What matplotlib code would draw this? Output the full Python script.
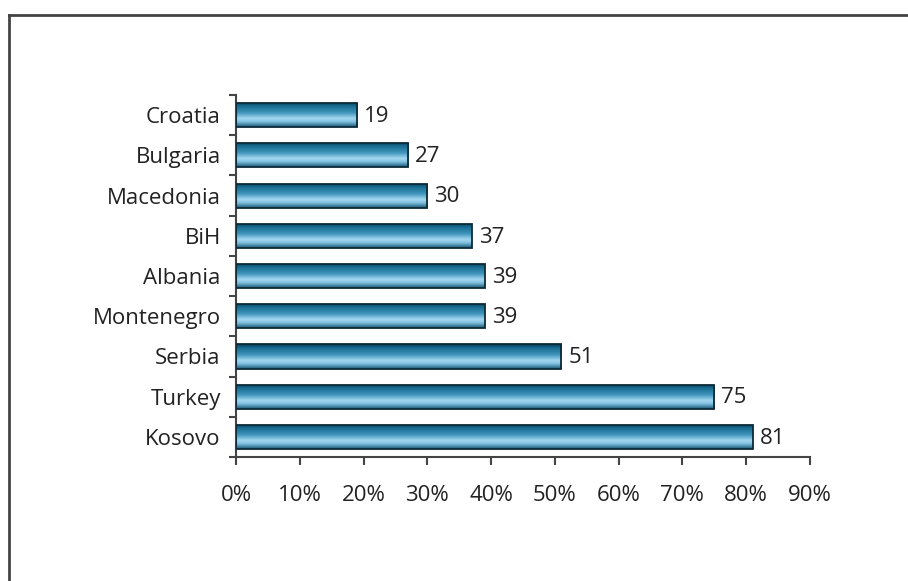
import numpy as np
import matplotlib.pyplot as plt
from matplotlib.colors import LinearSegmentedColormap
from matplotlib.lines import Line2D

countries = ["Croatia", "Bulgaria", "Macedonia", "BiH", "Albania",
             "Montenegro", "Serbia", "Turkey", "Kosovo"]
values = [19, 27, 30, 37, 39, 39, 51, 75, 81]
xticks = [0, 10, 20, 30, 40, 50, 60, 70, 80, 90]

plt.rcParams["font.family"] = ["Open Sans", "DejaVu Sans"]

fig = plt.figure(figsize=(9.08, 5.81), dpi=100)
ax = fig.add_axes([0.26, 0.2134, 0.632, 0.623])

# frame around the chart (top and left only visible)
fig.add_artist(Line2D([0.010, 1.0], [0.974, 0.974], transform=fig.transFigure,
                      color="#444444", lw=2))
fig.add_artist(Line2D([0.010, 0.010], [0.0, 0.974], transform=fig.transFigure,
                      color="#444444", lw=2))

# cylinder-like gradient: top dark, light band in lower middle, darker bottom
cmap = LinearSegmentedColormap.from_list(
    "bar", [(0.0, "#08374f"), (0.14, "#166a8e"), (0.42, "#3e94bb"),
            (0.66, "#a4d8f1"), (0.8, "#7fbfdf"), (1.0, "#175673")])
grad = np.linspace(0, 1, 64).reshape(-1, 1)

ypos = np.arange(len(countries))
h = 0.6
bars = ax.barh(ypos, values, height=h, facecolor="none",
               edgecolor="#0c2a38", linewidth=1.3, zorder=3)
for b, y, v in zip(bars, ypos, values):
    im = ax.imshow(grad, cmap=cmap, aspect="auto", origin="upper",
                   extent=[0, v, y + h / 2, y - h / 2], zorder=2,
                   interpolation="bicubic")
    im.set_clip_path(b)
    ax.text(v + 1.1, y + 0.03, str(v), va="center", ha="left", fontsize=16,
            color="#222222")

ax.set_xlim(0, 90)
ax.set_ylim(len(countries) - 0.5, -0.5)
ax.set_xticks(xticks)
ax.set_xticklabels([f"{t}%" for t in xticks], fontsize=16, color="#222222")
ax.set_yticks(ypos)
ax.set_yticklabels(countries, fontsize=16, color="#222222")
ax.set_yticks(np.arange(-0.5, len(countries)), minor=True)

ax.tick_params(axis="y", which="major", length=0, pad=11)
ax.tick_params(axis="y", which="minor", length=5, width=1.5,
               color="#444444", direction="out")
ax.tick_params(axis="x", which="major", length=6, width=1.5,
               color="#444444", direction="out", pad=14)

for s in ["top", "right"]:
    ax.spines[s].set_visible(False)
for s in ["left", "bottom"]:
    ax.spines[s].set_color("#444444")
    ax.spines[s].set_linewidth(1.5)

fig.savefig("out.png", dpi=100)
